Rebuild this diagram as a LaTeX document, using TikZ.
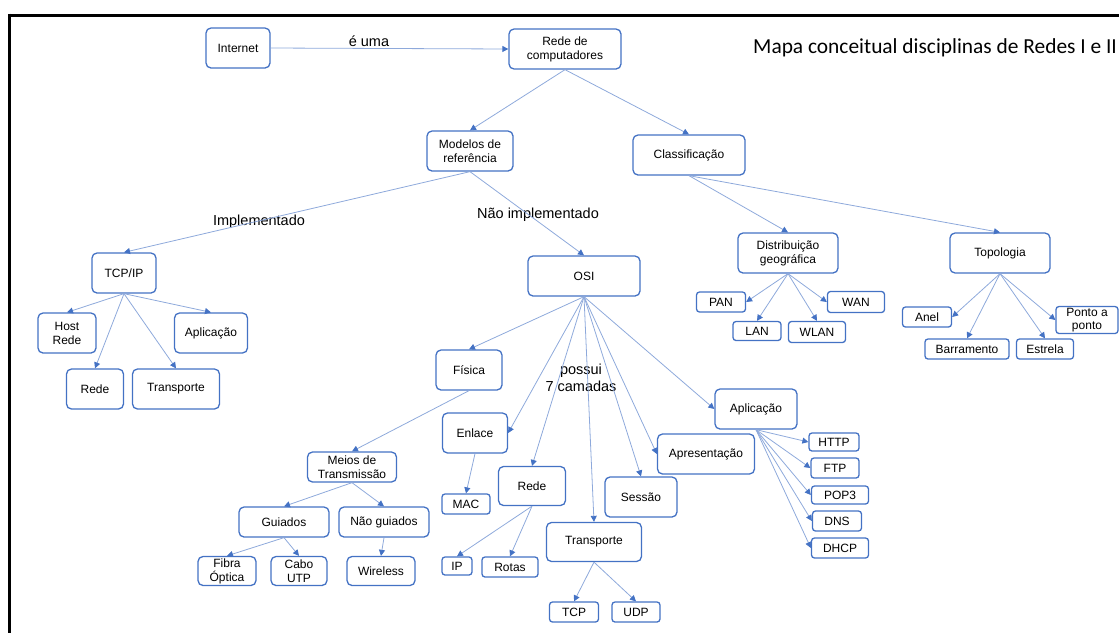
\documentclass[tikz,border=0pt]{standalone}
\usepackage{fontspec}
\setmainfont{Liberation Sans}
\newfontfamily\titlefont{Carlito}
\usetikzlibrary{arrows.meta}
\definecolor{boxblue}{RGB}{68,114,196}
\definecolor{edgeblue}{RGB}{142,169,219}
\definecolor{tipblue}{RGB}{68,114,196}
\tikzset{
  box/.style={draw=boxblue, line width=1.3pt, rounded corners=5pt, fill=white, inner sep=0pt, align=center, font=\fontsize{12}{14}\selectfont},
  sbox/.style={box, rounded corners=3pt},
  link/.style={draw=edgeblue, line width=0.8pt, -{Triangle[length=6pt,width=6pt,color=tipblue]}},
  lbl/.style={font=\fontsize{14.5}{17}\selectfont, align=center, inner sep=0pt},
  frameline/.style={draw=black, line width=3pt}
}
\begin{document}
\begin{tikzpicture}[x=1pt,y=-1pt]
\useasboundingbox (0,0) rectangle (1119,633);
% frame
\coordinate (ftl) at (7.5,15);
\coordinate (ftr) at (1119,15);
\coordinate (flb) at (9,633);
\draw[frameline] (ftr) -- (ftl);
\draw[frameline] (9,13.5) -- (flb);

% title
\node[anchor=west, inner sep=0pt, font=\titlefont\fontsize{21.4}{24}\selectfont] (title) at (753,48) {Mapa conceitual disciplinas de Redes I e II};

% nodes
\node[box, minimum width=64pt, minimum height=40pt] (internet) at (238,48) {Internet};
\node[box, minimum width=112pt, minimum height=40pt] (rc) at (565,49) {Rede de\\computadores};
\node[box, minimum width=86pt, minimum height=40pt] (mod) at (470,151) {Modelos de\\referência};
\node[box, minimum width=112pt, minimum height=40pt] (cls) at (689,155) {Classificação};

\node[box, minimum width=64pt, minimum height=40pt] (tcp) at (124,273) {TCP/IP};
\node[box, minimum width=58pt, minimum height=40pt] (host) at (67,333) {Host\\Rede};
\node[box, minimum width=73pt, minimum height=40pt] (tapl) at (211,333) {Aplicação};
\node[box, minimum width=57pt, minimum height=40pt] (trede) at (95,389) {Rede};
\node[box, minimum width=87pt, minimum height=40pt] (ttrans) at (176,389) {Transporte};

\node[box, minimum width=112pt, minimum height=40pt] (osi) at (584,276) {OSI};
\node[box, minimum width=66pt, minimum height=40pt] (fis) at (469,370) {Física};
\node[box, minimum width=65pt, minimum height=40pt] (enl) at (475,433) {Enlace};
\node[box, minimum width=89pt, minimum height=30pt] (meios) at (352,467) {Meios de\\Transmissão};
\node[box, minimum width=90pt, minimum height=30pt] (gui) at (284,522) {Guiados};
\node[box, minimum width=90pt, minimum height=30pt] (ngui) at (384,522) {Não guiados};
\node[box, minimum width=58pt, minimum height=29pt] (fibra) at (227,571) {Fibra\\Óptica};
\node[box, minimum width=56pt, minimum height=29pt] (cabo) at (299,571) {Cabo\\UTP};
\node[box, minimum width=68pt, minimum height=29pt] (wire) at (381,571) {Wireless};
\node[sbox, minimum width=48pt, minimum height=20pt] (mac) at (466,504) {MAC};
\node[box, minimum width=67pt, minimum height=39pt] (orede) at (532,486) {Rede};
\node[sbox, minimum width=30pt, minimum height=18pt] (ip) at (457,566) {IP};
\node[sbox, minimum width=56pt, minimum height=20pt] (rotas) at (510,567) {Rotas};
\node[box, minimum width=95pt, minimum height=39pt] (otrans) at (594,542) {Transporte};
\node[sbox, minimum width=49pt, minimum height=20pt] (tcpb) at (574,612) {TCP};
\node[sbox, minimum width=48pt, minimum height=20pt] (udp) at (636,612) {UDP};
\node[box, minimum width=72pt, minimum height=40pt] (sess) at (641,497) {Sessão};
\node[box, minimum width=97pt, minimum height=40pt] (apres) at (706,454) {Apresentação};
\node[box, minimum width=82pt, minimum height=40pt] (oapl) at (756,409) {Aplicação};
\node[sbox, minimum width=50pt, minimum height=18pt] (http) at (834,442) {HTTP};
\node[sbox, minimum width=48pt, minimum height=20pt] (ftp) at (835,468) {FTP};
\node[sbox, minimum width=57pt, minimum height=18pt] (pop) at (840,495) {POP3};
\node[sbox, minimum width=49pt, minimum height=20pt] (dns) at (837,521) {DNS};
\node[sbox, minimum width=57pt, minimum height=20pt] (dhcp) at (840,548) {DHCP};

\node[box, minimum width=100pt, minimum height=40pt] (dist) at (788,253) {Distribuição\\geográfica};
\node[box, minimum width=100pt, minimum height=40pt] (topo) at (1000,253) {Topologia};
\node[sbox, minimum width=49pt, minimum height=20pt] (pan) at (721,302) {PAN};
\node[sbox, minimum width=48pt, minimum height=19pt] (lan) at (757,331) {LAN};
\node[sbox, minimum width=57pt, minimum height=21pt] (wlan) at (817,332) {WLAN};
\node[sbox, minimum width=57pt, minimum height=21pt] (wan) at (856,302) {WAN};
\node[sbox, minimum width=49pt, minimum height=20pt] (anel) at (927,317) {Anel};
\node[sbox, minimum width=84pt, minimum height=20pt] (barr) at (967,349) {Barramento};
\node[sbox, minimum width=57pt, minimum height=20pt] (estr) at (1045,349) {Estrela};
\node[sbox, minimum width=62pt, minimum height=27pt, font=\fontsize{12}{13}\selectfont] (ponto) at (1087,320) {Ponto a\\ponto};

% labels
\node[lbl] (leuma) at (369,41) {é uma};
\node[lbl] (limp) at (259,222) {Implementado};
\node[lbl] (lnimp) at (538,215) {Não implementado};
\node[lbl] (lposs) at (581,378) {possui\\7 camadas};

% edges
\draw[link] (internet.east) -- (rc.west);
\draw[link] (rc.south) -- (mod.north);
\draw[link] (rc.south) -- (cls.north);
\draw[link] (mod.south) -- (tcp.north);
\draw[link] (mod.south) -- (osi.north);

\draw[link] (tcp.south) -- (host.north);
\draw[link] (tcp.south) -- (trede.north);
\draw[link] (tcp.south) -- (ttrans.north);
\draw[link] (tcp.south) -- (tapl.north);

\draw[link] (osi.south) -- (fis.north);
\draw[link] (osi.south) -- (enl.east);
\draw[link] (osi.south) -- (orede.north);
\draw[link] (osi.south) -- (otrans.north);
\draw[link] (osi.south) -- (sess.north);
\draw[link] (osi.south) -- (apres.west);
\draw[link] (osi.south) -- (oapl.west);

\draw[link] (fis.south) -- (meios.north);
\draw[link] (meios.south) -- (gui.north);
\draw[link] (meios.south) -- (ngui.north);
\draw[link] (gui.south) -- (fibra.north);
\draw[link] (gui.south) -- (cabo.north);
\draw[link] (ngui.south) -- (wire.north);
\draw[link] (enl.south) -- (mac.north);
\draw[link] (orede.south) -- (ip.north);
\draw[link] (orede.south) -- (rotas.north);
\draw[link] (otrans.south) -- (tcpb.north);
\draw[link] (otrans.south) -- (udp.north);

\draw[link] (oapl.south) -- (http.west);
\draw[link] (oapl.south) -- (ftp.west);
\draw[link] (oapl.south) -- (pop.west);
\draw[link] (oapl.south) -- (dns.west);
\draw[link] (oapl.south) -- (dhcp.west);

\draw[link] (cls.south) -- (dist.north);
\draw[link] (cls.south) -- (topo.north);
\draw[link] (dist.south) -- (pan.east);
\draw[link] (dist.south) -- (lan.north);
\draw[link] (dist.south) -- (wlan.north);
\draw[link] (dist.south) -- (wan.west);
\draw[link] (topo.south) -- (anel.east);
\draw[link] (topo.south) -- (barr.north);
\draw[link] (topo.south) -- (estr.north);
\draw[link] (topo.south) -- (ponto.west);
\end{tikzpicture}
\end{document}
